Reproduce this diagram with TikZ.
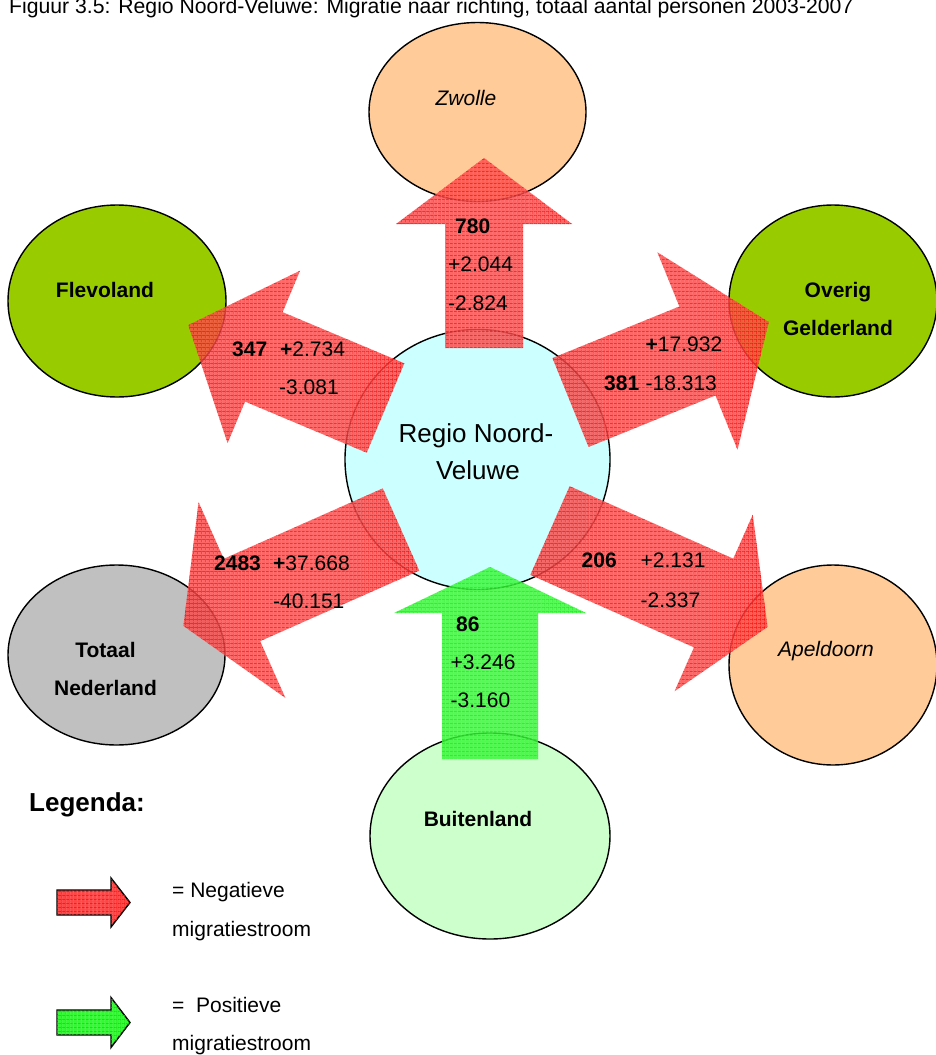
\documentclass[tikz,border=0pt]{standalone}
\usepackage{fontspec}
\setmainfont{Liberation Sans}
\usetikzlibrary{shapes.geometric,patterns.meta}
\definecolor{peach}{RGB}{255,204,153}
\definecolor{fgreen}{RGB}{153,204,0}
\definecolor{tgray}{RGB}{192,192,192}
\definecolor{lcyan}{RGB}{204,255,255}
\definecolor{lgreen}{RGB}{204,255,204}
\definecolor{redbase}{RGB}{255,70,70}
\definecolor{greenbase}{RGB}{50,250,50}
% #1,#2 tail centre, #3 rotation, #4 length, #5 shaft width, #6 head width, #7 head length, #8 style
\newcommand\flowarrow[8]{%
  \path[#8, shift={(#1,#2)}, rotate=#3]
    (0,{-#5/2}) -- ({#4-#7},{-#5/2}) -- ({#4-#7},{-#6/2}) -- (#4,0)
    -- ({#4-#7},{#6/2}) -- ({#4-#7},{#5/2}) -- (0,{#5/2}) -- cycle;}
\tikzset{
  region/.style={ellipse, draw=black, line width=1.4pt, inner sep=0pt},
  lbl/.style={inner sep=0pt, font=\fontsize{21}{25}\selectfont},
  blbl/.style={inner sep=0pt, font=\fontsize{21}{25}\selectfont\bfseries},
  redflow/.style={fill=redbase, fill opacity=0.82,
    postaction={pattern={Lines[angle=0,distance=4pt,line width=0.8pt]}, pattern color=red, fill opacity=0.9},
    postaction={pattern={Lines[angle=90,distance=4pt,line width=0.8pt]}, pattern color=red, fill opacity=0.9}},
  greenflow/.style={fill=greenbase, fill opacity=0.82,
    postaction={pattern={Lines[angle=0,distance=4pt,line width=0.8pt]}, pattern color=green!90!black, fill opacity=0.7},
    postaction={pattern={Lines[angle=90,distance=4pt,line width=0.8pt]}, pattern color=green!90!black, fill opacity=0.7}},
  redkey/.style={draw=black, line width=1.4pt, fill=redbase,
    postaction={pattern={Lines[angle=0,distance=4pt,line width=0.8pt]}, pattern color=red},
    postaction={pattern={Lines[angle=90,distance=4pt,line width=0.8pt]}, pattern color=red}},
  greenkey/.style={draw=black, line width=1.4pt, fill=greenbase,
    postaction={pattern={Lines[angle=0,distance=4pt,line width=0.8pt]}, pattern color=green!85!black},
    postaction={pattern={Lines[angle=90,distance=4pt,line width=0.8pt]}, pattern color=green!85!black}}
}
\begin{document}
\begin{tikzpicture}[x=1pt,y=-1pt]
\useasboundingbox (0,0) rectangle (936,1055);
\fill[white] (0,0) rectangle (936,1055);

% title
\node[inner sep=0pt, font=\fontsize{21.2}{25}\selectfont, anchor=base west] (title) at (9,13) {Figuur 3.5: Regio Noord-Veluwe: Migratie naar richting, totaal aantal personen 2003-2007};

% regions
\node[region, fill=peach, minimum width=217pt, minimum height=179pt] (zwolle) at (477.5,112) {};
\node[region, fill=fgreen, minimum width=218pt, minimum height=192pt] (flevo) at (117,301) {};
\node[region, fill=fgreen, minimum width=208pt, minimum height=192pt] (gelder) at (833,301) {};
\node[region, fill=lcyan, minimum width=265pt, minimum height=260pt] (regio) at (477.5,459.5) {};
\node[region, fill=tgray, minimum width=217pt, minimum height=180pt] (totaal) at (116.5,655) {};
\node[region, fill=peach, minimum width=208pt, minimum height=200pt] (apel) at (833,665) {};
\node[region, fill=lgreen, minimum width=240pt, minimum height=206pt] (buiten) at (490,836) {};

% flow arrows
\flowarrow{484}{348}{90}{190}{78}{176}{66}{redflow}
\flowarrow{385.5}{408}{157.2}{214}{97}{187}{82}{redflow}
\flowarrow{570.5}{402.5}{22.1}{214}{96}{213}{77}{redflow}
\flowarrow{401}{529.5}{-156.1}{238}{90}{214}{64}{redflow}
\flowarrow{550}{530.5}{-23.9}{238}{97}{193}{59}{redflow}
\flowarrow{490}{759}{90}{192}{96}{192}{46}{greenflow}

% region labels
\node[lbl, anchor=base] (tzw) at (466,105.5) {\itshape Zwolle};
\node[blbl, anchor=base] (tfl) at (105,297) {Flevoland};
\node[blbl, anchor=base] (tge1) at (838,297.5) {Overig};
\node[blbl, anchor=base] (tge2) at (838,335) {Gelderland};
\node[inner sep=0pt, font=\fontsize{26}{30}\selectfont, anchor=base] (tre1) at (476,442) {Regio Noord-};
\node[inner sep=0pt, font=\fontsize{26}{30}\selectfont, anchor=base] (tre2) at (478,479) {Veluwe};
\node[blbl, anchor=base] (tto1) at (105.5,657.5) {Totaal};
\node[blbl, anchor=base] (tto2) at (105.5,695.5) {Nederland};
\node[lbl, anchor=base] (tap) at (826,656.5) {\itshape Apeldoorn};
\node[blbl, anchor=base] (tbu) at (478,826) {Buitenland};

% flow numbers
\node[blbl, anchor=base west] (n1) at (455,233) {780};
\node[lbl, anchor=base west] (n2) at (448,271.5) {+2.044};
\node[lbl, anchor=base west] (n3) at (448,310) {-2.824};

\node[blbl, anchor=base west] (f1) at (232,356) {347};
\node[lbl, anchor=base west] (f2) at (280,356) {\textbf{+}2.734};
\node[lbl, anchor=base west] (f3) at (279,394) {-3.081};

\node[lbl, anchor=base west] (g1) at (645.5,351.5) {\textbf{+}17.932};
\node[blbl, anchor=base west] (g2) at (604,390) {381};
\node[lbl, anchor=base west] (g3) at (645.5,390) {-18.313};

\node[blbl, anchor=base west] (t1) at (214,570) {2483};
\node[lbl, anchor=base west] (t2) at (273,570) {\textbf{+}37.668};
\node[lbl, anchor=base west] (t3) at (273,608) {-40.151};

\node[blbl, anchor=base west] (a1) at (581.5,567.5) {206};
\node[lbl, anchor=base west] (a2) at (640.5,567.5) {+2.131};
\node[lbl, anchor=base west] (a3) at (640.5,607) {-2.337};

\node[blbl, anchor=base west] (b1) at (456,631) {86};
\node[lbl, anchor=base west] (b2) at (450.5,669.5) {+3.246};
\node[lbl, anchor=base west] (b3) at (450.5,707.5) {-3.160};

% legend
\node[inner sep=0pt, font=\fontsize{26}{30}\selectfont\bfseries, anchor=base west] (leg) at (29,811.5) {Legenda:};
\flowarrow{57}{902.5}{0}{73}{25}{49}{19}{redkey}
\flowarrow{57}{1022.5}{0}{73}{25}{50}{19}{greenkey}
\node[lbl, anchor=base west] (l1) at (172,897.5) {= Negatieve};
\node[lbl, anchor=base west] (l2) at (172,936) {migratiestroom};
\node[lbl, anchor=base west] (l3) at (172,1012.5) {=~~Positieve};
\node[lbl, anchor=base west] (l4) at (172,1050) {migratiestroom};
\end{tikzpicture}
\end{document}
